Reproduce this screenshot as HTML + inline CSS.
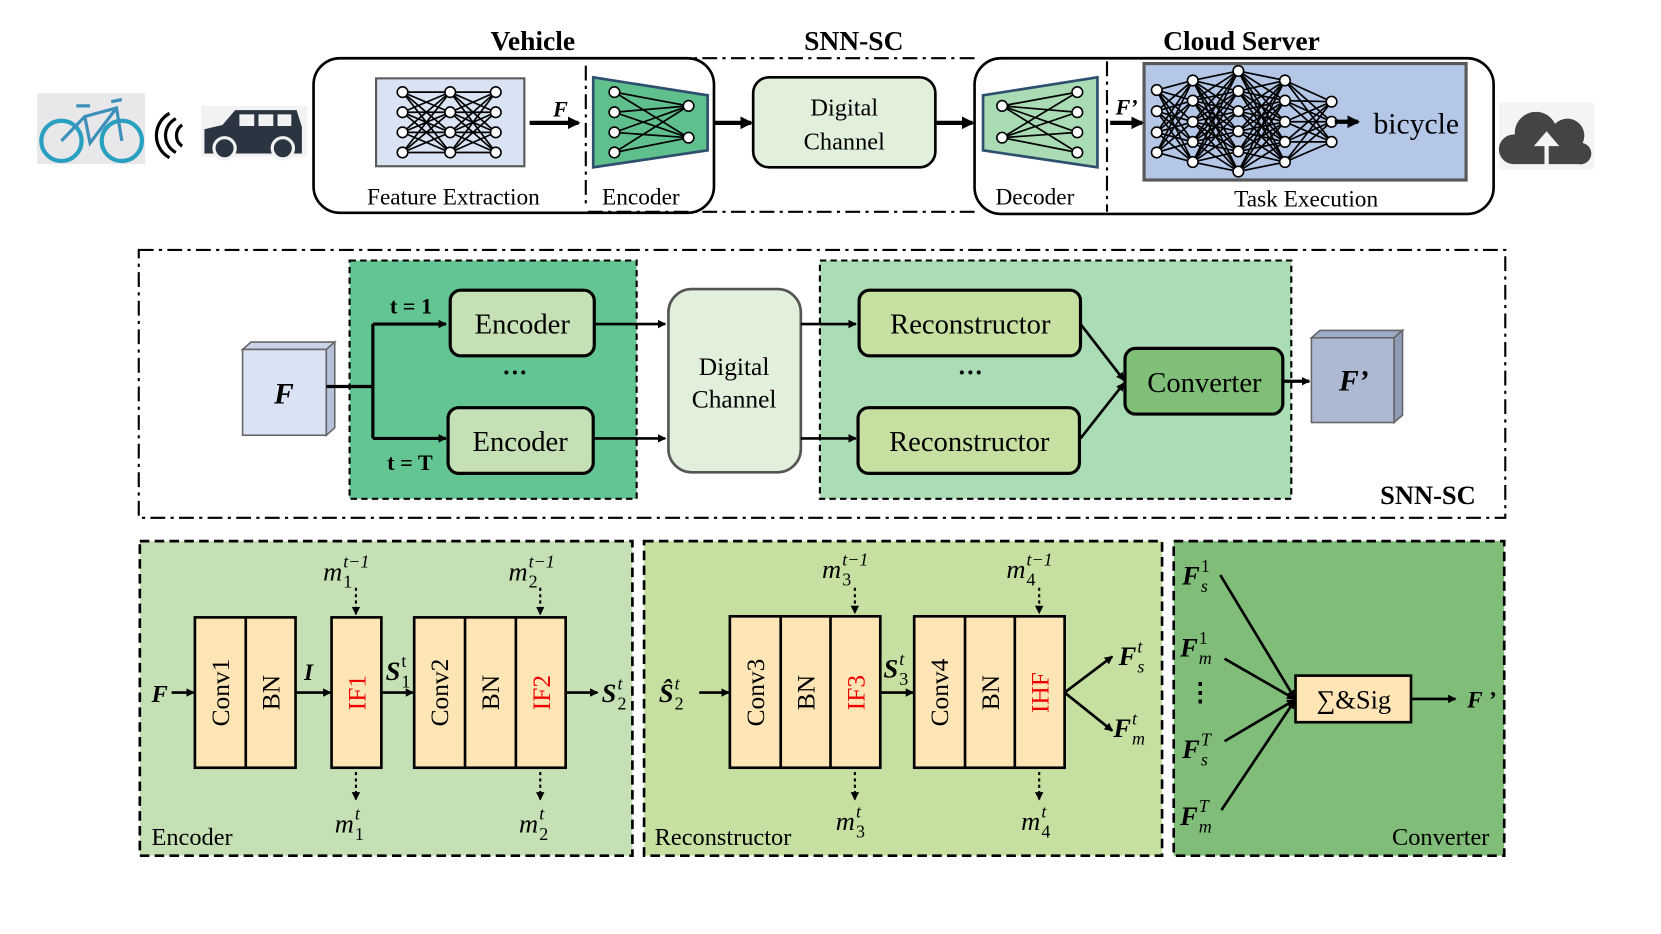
<!DOCTYPE html>
<html><head><meta charset="utf-8"><style>
html,body{margin:0;padding:0;background:#fff;}
svg{display:block;}
text{font-family:"Liberation Serif",serif;}
.m{font-style:italic;}
</style></head><body>
<svg id="s" width="1661" height="934" viewBox="0 0 1568 882" preserveAspectRatio="none" xmlns="http://www.w3.org/2000/svg">
<defs>
<marker id="ar" markerWidth="8" markerHeight="8" refX="7" refY="4" orient="auto" markerUnits="userSpaceOnUse"><path d="M0,0 L8,4 L0,8 z" fill="#000"/></marker>
<marker id="ar2" markerWidth="12" markerHeight="12" refX="10" refY="6" orient="auto" markerUnits="userSpaceOnUse"><path d="M0,0 L12,6 L0,12 z" fill="#000"/></marker>
</defs>
<rect width="1568" height="882" fill="#fff"/>

<!-- ===== TOP ===== -->
<rect x="35" y="88" width="102" height="67" fill="#e8e8ea"/>
<circle cx="58" cy="133" r="19" fill="none" stroke="#2aa0c0" stroke-width="4"/>
<circle cx="115" cy="133" r="19" fill="none" stroke="#2aa0c0" stroke-width="4"/>
<path d="M58,133 L80,110 L110,102 L115,133 M80,110 L85,135 L110,102 M72,100 L85,100 M105,96 L115,94" stroke="#3b8fb8" stroke-width="3" fill="none"/>
<path d="M172,118 a12,12 0 0 0 0,20" fill="none" stroke="#000" stroke-width="3"/>
<path d="M166,112 a18,18 0 0 0 0,32" fill="none" stroke="#000" stroke-width="3"/>
<path d="M160,107 a24,24 0 0 0 0,42" fill="none" stroke="#000" stroke-width="3"/>
<rect x="190" y="100" width="100" height="48" fill="#f2f2f2"/>
<path d="M193,145 L193,122 L210,118 L222,104 L280,104 L285,120 L285,145 Z" fill="#2b3542"/>
<rect x="226" y="108" width="14" height="11" fill="#f2f2f2"/><rect x="244" y="108" width="14" height="11" fill="#f2f2f2"/><rect x="262" y="108" width="13" height="11" fill="#f2f2f2"/>
<circle cx="212" cy="140" r="10" fill="#2b3542" stroke="#f2f2f2" stroke-width="3"/>
<circle cx="267" cy="140" r="10" fill="#2b3542" stroke="#f2f2f2" stroke-width="3"/>
<rect x="1415" y="97" width="90" height="63" fill="#f4f4f4"/>
<path d="M1428,155 a14,14 0 0 1 2,-28 a20,20 0 0 1 38,-10 a16,16 0 0 1 26,18 a10,10 0 0 1 -4,20 Z" fill="#444"/>
<path d="M1458,158 L1458,138 L1448,138 L1460,124 L1472,138 L1462,138 L1462,158" fill="#f4f4f4"/>

<rect x="296" y="55" width="378" height="146" rx="25" fill="none" stroke="#000" stroke-width="2.5"/>
<rect x="920" y="55" width="490" height="147" rx="25" fill="none" stroke="#000" stroke-width="2.5"/>
<path d="M555,55 L920,55 M555,200 L920,200" stroke="#000" stroke-width="2" stroke-dasharray="14,5,3,5"/>
<path d="M553,62 L553,197 M1045,58 L1045,200" stroke="#000" stroke-width="2" stroke-dasharray="14,5,3,5"/>

<text x="503" y="47" font-size="26" font-weight="bold" text-anchor="middle">Vehicle</text>
<text x="806" y="47" font-size="26" font-weight="bold" text-anchor="middle">SNN-SC</text>
<text x="1172" y="47" font-size="26" font-weight="bold" text-anchor="middle">Cloud Server</text>

<rect x="355" y="74" width="140" height="83" fill="#dae3f3" stroke="#595959" stroke-width="2"/>
<g id="fe"></g>
<polygon points="560,73 668,90 668,142 560,158" fill="#5fc08e" stroke="#2f4f6f" stroke-width="2.5"/>
<g id="en"></g>
<rect x="711" y="73" width="172" height="85" rx="15" fill="#e2efda" stroke="#000" stroke-width="2.5"/>
<text x="797" y="109" font-size="23" text-anchor="middle">Digital</text>
<text x="797" y="141" font-size="23" text-anchor="middle">Channel</text>
<polygon points="928,90 1036,73 1036,158 928,142" fill="#a9dcb4" stroke="#2f4f6f" stroke-width="2.5"/>
<g id="de"></g>
<rect x="1080" y="60" width="304" height="110" fill="#b4c7e7" stroke="#595959" stroke-width="3"/>
<g id="te"></g>

<line x1="500" y1="116" x2="546" y2="116" stroke="#000" stroke-width="4" marker-end="url(#ar2)"/>
<line x1="675" y1="116" x2="709" y2="116" stroke="#000" stroke-width="4" marker-end="url(#ar2)"/>
<line x1="883" y1="116" x2="918" y2="116" stroke="#000" stroke-width="4" marker-end="url(#ar2)"/>
<line x1="1048" y1="116" x2="1078" y2="116" stroke="#000" stroke-width="4" marker-end="url(#ar2)"/>
<line x1="1260" y1="115" x2="1282" y2="115" stroke="#000" stroke-width="4" marker-end="url(#ar2)"/>
<text x="522" y="110" font-size="21" font-weight="bold" class="m">F</text>
<text x="1053" y="108" font-size="21" font-weight="bold" class="m">F’</text>
<text x="1337" y="126" font-size="28" text-anchor="middle">bicycle</text>
<text x="428" y="193" font-size="22" text-anchor="middle">Feature Extraction</text>
<text x="605" y="193" font-size="22" text-anchor="middle">Encoder</text>
<text x="977" y="193" font-size="22" text-anchor="middle">Decoder</text>
<text x="1233" y="195" font-size="22" text-anchor="middle">Task Execution</text>

<!-- ===== MIDDLE ===== -->
<rect x="131" y="236" width="1290" height="253" fill="none" stroke="#000" stroke-width="2" stroke-dasharray="14,5,3,5"/>
<rect x="330" y="246" width="271" height="225" fill="#62c592" stroke="#000" stroke-width="2" stroke-dasharray="6,4"/>
<rect x="774" y="246" width="445" height="225" fill="#aadcb5" stroke="#000" stroke-width="2" stroke-dasharray="6,4"/>
<polygon points="229,330 237,323 316,323 308,330" fill="#c9d4ea" stroke="#666" stroke-width="1.5"/>
<polygon points="308,330 316,323 316,404 308,411" fill="#b6c2dc" stroke="#666" stroke-width="1.5"/>
<rect x="229" y="330" width="79" height="81" fill="#dae3f3" stroke="#666" stroke-width="1.5"/>
<text x="268" y="381" font-size="28" font-weight="bold" class="m" text-anchor="middle">F</text>
<polygon points="1238,319 1246,312 1324,312 1316,319" fill="#9eabc6" stroke="#666" stroke-width="1.5"/>
<polygon points="1316,319 1324,312 1324,392 1316,399" fill="#8f9cb8" stroke="#666" stroke-width="1.5"/>
<rect x="1238" y="319" width="78" height="80" fill="#adb9d3" stroke="#666" stroke-width="1.5"/>
<text x="1278" y="369" font-size="28" font-weight="bold" class="m" text-anchor="middle">F’</text>

<path d="M308,365 L352,365 M352,306 L352,414" stroke="#000" stroke-width="3" fill="none"/>
<line x1="352" y1="306" x2="421" y2="306" stroke="#000" stroke-width="3" marker-end="url(#ar)"/>
<line x1="352" y1="414" x2="421" y2="414" stroke="#000" stroke-width="3" marker-end="url(#ar)"/>
<text x="388" y="296" font-size="21" font-weight="bold" text-anchor="middle">t = 1</text>
<text x="387" y="444" font-size="21" font-weight="bold" text-anchor="middle">t = T</text>
<rect x="425" y="274" width="136" height="62" rx="10" fill="#c5e0b4" stroke="#000" stroke-width="3"/>
<rect x="423" y="385" width="137" height="62" rx="10" fill="#c5e0b4" stroke="#000" stroke-width="3"/>
<text x="493" y="315" font-size="27" text-anchor="middle">Encoder</text>
<text x="491" y="426" font-size="27" text-anchor="middle">Encoder</text>
<text x="486" y="360" font-size="24" text-anchor="middle" font-weight="bold">···</text>
<rect x="631" y="273" width="125" height="173" rx="22" fill="#e2efda" stroke="#555" stroke-width="2.5"/>
<text x="693" y="354" font-size="24" text-anchor="middle">Digital</text>
<text x="693" y="385" font-size="24" text-anchor="middle">Channel</text>
<line x1="561" y1="306" x2="628" y2="306" stroke="#000" stroke-width="2.5" marker-end="url(#ar)"/>
<line x1="560" y1="414" x2="628" y2="414" stroke="#000" stroke-width="2.5" marker-end="url(#ar)"/>
<line x1="756" y1="306" x2="808" y2="306" stroke="#000" stroke-width="2.5" marker-end="url(#ar)"/>
<line x1="756" y1="414" x2="808" y2="414" stroke="#000" stroke-width="2.5" marker-end="url(#ar)"/>
<rect x="811" y="274" width="209" height="62" rx="10" fill="#c5e0a0" stroke="#000" stroke-width="3"/>
<rect x="810" y="385" width="209" height="62" rx="10" fill="#c5e0a0" stroke="#000" stroke-width="3"/>
<text x="916" y="315" font-size="27" text-anchor="middle">Reconstructor</text>
<text x="915" y="426" font-size="27" text-anchor="middle">Reconstructor</text>
<text x="916" y="360" font-size="24" text-anchor="middle" font-weight="bold">···</text>
<line x1="1020" y1="306" x2="1061" y2="359" stroke="#000" stroke-width="2.5" marker-end="url(#ar)"/>
<line x1="1020" y1="414" x2="1061" y2="362" stroke="#000" stroke-width="2.5" marker-end="url(#ar)"/>
<rect x="1062" y="329" width="149" height="62" rx="10" fill="#7fbf78" stroke="#000" stroke-width="3"/>
<text x="1137" y="370" font-size="27" text-anchor="middle">Converter</text>
<line x1="1211" y1="360" x2="1236" y2="360" stroke="#000" stroke-width="3" marker-end="url(#ar)"/>
<text x="1348" y="476" font-size="25" font-weight="bold" text-anchor="middle">SNN-SC</text>

<!-- ===== BOTTOM ===== -->
<rect x="132" y="511" width="465" height="297" fill="#c5e0b4" stroke="#000" stroke-width="2.5" stroke-dasharray="9,5"/>
<rect x="608" y="511" width="489" height="297" fill="#c5e0a0" stroke="#000" stroke-width="2.5" stroke-dasharray="9,5"/>
<rect x="1108" y="511" width="312" height="297" fill="#80bd79" stroke="#000" stroke-width="2.5" stroke-dasharray="9,5"/>
<text x="143" y="798" font-size="23">Encoder</text>
<text x="618" y="798" font-size="23">Reconstructor</text>
<text x="1406" y="798" font-size="23" text-anchor="end">Converter</text>

<g fill="#fde5b5" stroke="#000" stroke-width="2.5">
<rect x="184" y="583" width="95" height="142"/><line x1="232" y1="583" x2="232" y2="725"/>
<rect x="313" y="583" width="47" height="142"/>
<rect x="391" y="583" width="143" height="142"/><line x1="439" y1="583" x2="439" y2="725"/><line x1="487" y1="583" x2="487" y2="725"/>
<rect x="689" y="582" width="142" height="143"/><line x1="737" y1="582" x2="737" y2="725"/><line x1="784" y1="582" x2="784" y2="725"/>
<rect x="863" y="582" width="142" height="143"/><line x1="911" y1="582" x2="911" y2="725"/><line x1="958" y1="582" x2="958" y2="725"/>
<rect x="1223" y="638" width="109" height="44"/>
</g>
<g font-size="24" text-anchor="middle">
<text transform="translate(216,654) rotate(-90)">Conv1</text>
<text transform="translate(264,654) rotate(-90)">BN</text>
<text transform="translate(345,654) rotate(-90)" fill="#e00">IF1</text>
<text transform="translate(423,654) rotate(-90)">Conv2</text>
<text transform="translate(471,654) rotate(-90)">BN</text>
<text transform="translate(519,654) rotate(-90)" fill="#e00">IF2</text>
<text transform="translate(721,654) rotate(-90)">Conv3</text>
<text transform="translate(769,654) rotate(-90)">BN</text>
<text transform="translate(816,654) rotate(-90)" fill="#e00">IF3</text>
<text transform="translate(895,654) rotate(-90)">Conv4</text>
<text transform="translate(943,654) rotate(-90)">BN</text>
<text transform="translate(990,654) rotate(-90)" fill="#e00">IHF</text>
</g>
<text x="1278" y="669" font-size="25" text-anchor="middle">∑&amp;Sig</text>

<g stroke="#000" stroke-width="2.5">
<line x1="162" y1="654" x2="183" y2="654" marker-end="url(#ar)"/>
<line x1="279" y1="654" x2="312" y2="654" marker-end="url(#ar)"/>
<line x1="360" y1="654" x2="390" y2="654" marker-end="url(#ar)"/>
<line x1="534" y1="654" x2="564" y2="654" marker-end="url(#ar)"/>
<line x1="660" y1="654" x2="688" y2="654" marker-end="url(#ar)"/>
<line x1="831" y1="654" x2="862" y2="654" marker-end="url(#ar)"/>
<line x1="1005" y1="654" x2="1050" y2="620" marker-end="url(#ar)"/>
<line x1="1005" y1="654" x2="1050" y2="690" marker-end="url(#ar)"/>
<line x1="1332" y1="660" x2="1374" y2="660" marker-end="url(#ar)"/>
<line x1="1152" y1="543" x2="1222" y2="659" marker-end="url(#ar)"/>
<line x1="1156" y1="622" x2="1222" y2="660" marker-end="url(#ar)"/>
<line x1="1156" y1="700" x2="1222" y2="661" marker-end="url(#ar)"/>
<line x1="1153" y1="765" x2="1222" y2="662" marker-end="url(#ar)"/>
</g>
<g stroke="#000" stroke-width="2" stroke-dasharray="3,3">
<line x1="336" y1="555" x2="336" y2="580" marker-end="url(#ar)"/>
<line x1="336" y1="729" x2="336" y2="755" marker-end="url(#ar)"/>
<line x1="510" y1="555" x2="510" y2="580" marker-end="url(#ar)"/>
<line x1="510" y1="729" x2="510" y2="755" marker-end="url(#ar)"/>
<line x1="807" y1="555" x2="807" y2="579" marker-end="url(#ar)"/>
<line x1="807" y1="729" x2="807" y2="755" marker-end="url(#ar)"/>
<line x1="981" y1="555" x2="981" y2="579" marker-end="url(#ar)"/>
<line x1="981" y1="729" x2="981" y2="755" marker-end="url(#ar)"/>
</g>
<g font-size="22">
<text x="143" y="663" class="m" font-weight="bold" font-size="23">F</text>
<text x="287" y="642" class="m" font-weight="bold">I</text>
<text x="1385" y="668" class="m" font-weight="bold">F ’</text>
</g>
<g id="labs"></g>
</svg>
<script>
(function(){
var NS="http://www.w3.org/2000/svg";
function net(id,cols,r){
 var g=document.getElementById(id);
 for(var i=0;i<cols.length-1;i++){
  cols[i].ys.forEach(function(a){cols[i+1].ys.forEach(function(b){
   var l=document.createElementNS(NS,"line");
   l.setAttribute("x1",cols[i].x);l.setAttribute("y1",a);l.setAttribute("x2",cols[i+1].x);l.setAttribute("y2",b);
   l.setAttribute("stroke","#000");l.setAttribute("stroke-width","1.6");g.appendChild(l);});});
 }
 cols.forEach(function(c){c.ys.forEach(function(y){
  var e=document.createElementNS(NS,"circle");e.setAttribute("cx",c.x);e.setAttribute("cy",y);e.setAttribute("r",r);
  e.setAttribute("fill","#fff");e.setAttribute("stroke","#000");e.setAttribute("stroke-width","1.5");g.appendChild(e);});});
}
var r4=[87,106,125,144];
net("fe",[{x:380,ys:r4},{x:425,ys:r4},{x:468,ys:r4}],5);
net("en",[{x:580,ys:r4},{x:650,ys:[100,130]}],5);
net("de",[{x:946,ys:[100,130]},{x:1017,ys:r4}],5);
net("te",[{x:1092,ys:[85,105,125,144]},{x:1126,ys:[76,95,115,134,153]},{x:1169,ys:[67,86,105,124,143,162]},{x:1213,ys:[76,95,115,134,153]},{x:1257,ys:[96,115,134]}],5);

var L=document.getElementById("labs");
function t(x,y,s,size,bold,ital){
 var e=document.createElementNS(NS,"text");e.setAttribute("x",x);e.setAttribute("y",y);
 e.setAttribute("font-size",size);if(bold)e.setAttribute("font-weight","bold");if(ital)e.setAttribute("font-style","italic");
 e.textContent=s;L.appendChild(e);return e;
}
function lab(x,y,base,sub,sup,bold,subIt,supIt){
 var b=t(x,y,base,25,bold,true);
 var w=b.getComputedTextLength();
 t(x+w+1,y+7,sub,17,false,subIt);
 t(x+w+1,y-12,sup,17,false,supIt);
}
lab(305,548,"m","1","t−1",false,false,true);
lab(480,548,"m","2","t−1",false,false,true);
lab(776,546,"m","3","t−1",false,false,true);
lab(950,546,"m","4","t−1",false,false,true);
lab(316,786,"m","1","t",false,false,true);
lab(490,786,"m","2","t",false,false,true);
lab(789,784,"m","3","t",false,false,true);
lab(964,784,"m","4","t",false,false,true);
lab(364,642,"S","1","t",true,false,false);
lab(568,663,"S","2","t",true,false,true);
lab(622,663,"Ŝ","2","t",true,false,true);
lab(834,640,"S","3","t",true,false,true);
lab(1056,628,"F","s","t",true,true,true);
lab(1051,696,"F","m","t",true,true,true);
lab(1116,552,"F","s","1",true,true,false);
lab(1114,620,"F","m","1",true,true,false);
lab(1116,716,"F","s","T",true,true,true);
lab(1114,779,"F","m","T",true,true,true);
t(1133,662,"⋮",24,true,false).setAttribute("text-anchor","middle");
})();
</script>
</body></html>
